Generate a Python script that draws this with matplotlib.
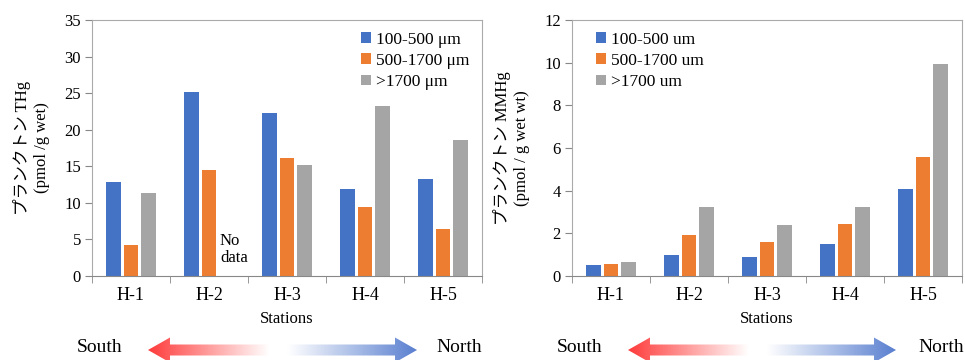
import matplotlib.pyplot as plt
import numpy as np
from matplotlib.patches import Polygon
from matplotlib.colors import LinearSegmentedColormap

plt.rcParams['font.family'] = ['Liberation Serif', 'Noto Sans CJK JP']

stations = ['H-1', 'H-2', 'H-3', 'H-4', 'H-5']

# 総水銀 THg (pmol/g wet)
thg_small = [12.9, 25.1, 22.3, 11.9, 13.3]
thg_mid = [4.2, 14.5, 16.1, 9.4, 6.4]
thg_large = [11.3, np.nan, 15.2, 23.2, 18.6]   # H-2 no data

# メチル水銀 MMHg (pmol/g wet wt)
mmhg_small = [0.50, 0.97, 0.88, 1.50, 4.10]
mmhg_mid = [0.57, 1.90, 1.58, 2.45, 5.58]
mmhg_large = [0.65, 3.23, 2.37, 3.23, 9.93]

labels_thg = ['100-500 μm', '500-1700 μm', '>1700 μm']
labels_mmhg = ['100-500 um', '500-1700 um', '>1700 um']
colors = ['#4472C4', '#ED7D31', '#A5A5A5']

fig = plt.figure(figsize=(9.65, 3.6), dpi=100)
ax1 = fig.add_axes([92/965, 84/360, 390/965, 256/360])
ax2 = fig.add_axes([572/965, 84/360, 390/965, 256/360])

x = np.arange(len(stations))
w = 0.185
step = 0.225


def bars(ax, series, labels, ymax, ystep):
    for i, (vals, lab, c) in enumerate(zip(series, labels, colors)):
        ax.bar(x + (i - 1) * step, vals, w, color=c, label=lab)
    ax.set_xlim(-0.5, 4.5)
    ax.set_ylim(0, ymax)
    ax.set_yticks(np.arange(0, ymax + 0.01, ystep))
    ax.set_xticks(x)
    ax.set_xticklabels(stations, fontsize=13)
    ax.set_xticks(np.arange(-0.5, 4.6, 1), minor=True)
    ax.tick_params(axis='x', which='major', length=0, pad=8)
    ax.tick_params(axis='x', which='minor', length=5, color='#888888', direction='out')
    ax.tick_params(axis='y', length=5, color='#888888', labelsize=12, pad=3)
    for s in ax.spines.values():
        s.set_color('#aaaaaa')
        s.set_linewidth(0.8)
    ax.spines['bottom'].set_color('#888888')
    ax.set_xlabel('Stations', fontsize=12, labelpad=5)


bars(ax1, [thg_small, thg_mid, thg_large], labels_thg, 35, 5)
bars(ax2, [mmhg_small, mmhg_mid, mmhg_large], labels_mmhg, 12, 2)

ax1.set_ylabel('プランクトン THg\n(pmol /g wet)', fontsize=12, labelpad=10, linespacing=1.25)
ax2.set_ylabel('プランクトン MMHg\n(pmol / g wet wt)', fontsize=12, labelpad=10, linespacing=1.25)

ax1.text(1.14, 1.4, 'No\ndata', fontsize=12, ha='left', va='bottom', linespacing=1.05)

leg_kw = dict(frameon=False, fontsize=12.5, handlelength=0.55, handleheight=0.55,
              handletextpad=0.3, labelspacing=0.3, borderaxespad=0.0, borderpad=0.0)
ax1.legend(loc='upper left', bbox_to_anchor=(0.69, 0.955), **leg_kw)
ax2.legend(loc='upper left', bbox_to_anchor=(0.062, 0.955), **leg_kw)

# South / North arrows
over = fig.add_axes([0, 0, 1, 1])
over.set_xlim(0, 965)
over.set_ylim(360, 0)
over.axis('off')
over.patch.set_alpha(0)

cmap = LinearSegmentedColormap.from_list(
    'sn', [(0.0, '#FF3B3B'), (0.45, '#FFFFFF'), (0.52, '#FFFFFF'), (1.0, '#5A80D0')])
grad = np.linspace(0, 1, 256).reshape(1, -1)


def arrow(x0, x1, yc=350, sh=5.5, hh=12.5, hl=22):
    pts = [(x0, yc), (x0 + hl, yc - hh), (x0 + hl, yc - sh), (x1 - hl, yc - sh),
           (x1 - hl, yc - hh), (x1, yc), (x1 - hl, yc + hh), (x1 - hl, yc + sh),
           (x0 + hl, yc + sh), (x0 + hl, yc + hh)]
    poly = Polygon(pts, closed=True, facecolor='none', edgecolor='none')
    over.add_patch(poly)
    im = over.imshow(grad, cmap=cmap, aspect='auto',
                     extent=(x0, x1, yc + hh, yc - hh), interpolation='bilinear')
    im.set_clip_path(poly)


arrow(148, 417)
arrow(628, 896)
over.set_xlim(0, 965)
over.set_ylim(360, 0)

for xs, xn in [(100, 459), (580, 941)]:
    over.text(xs, 348, 'South', fontsize=14, ha='center', va='center')
    over.text(xn, 348, 'North', fontsize=14, ha='center', va='center')

fig.savefig('out.png', dpi=100)
